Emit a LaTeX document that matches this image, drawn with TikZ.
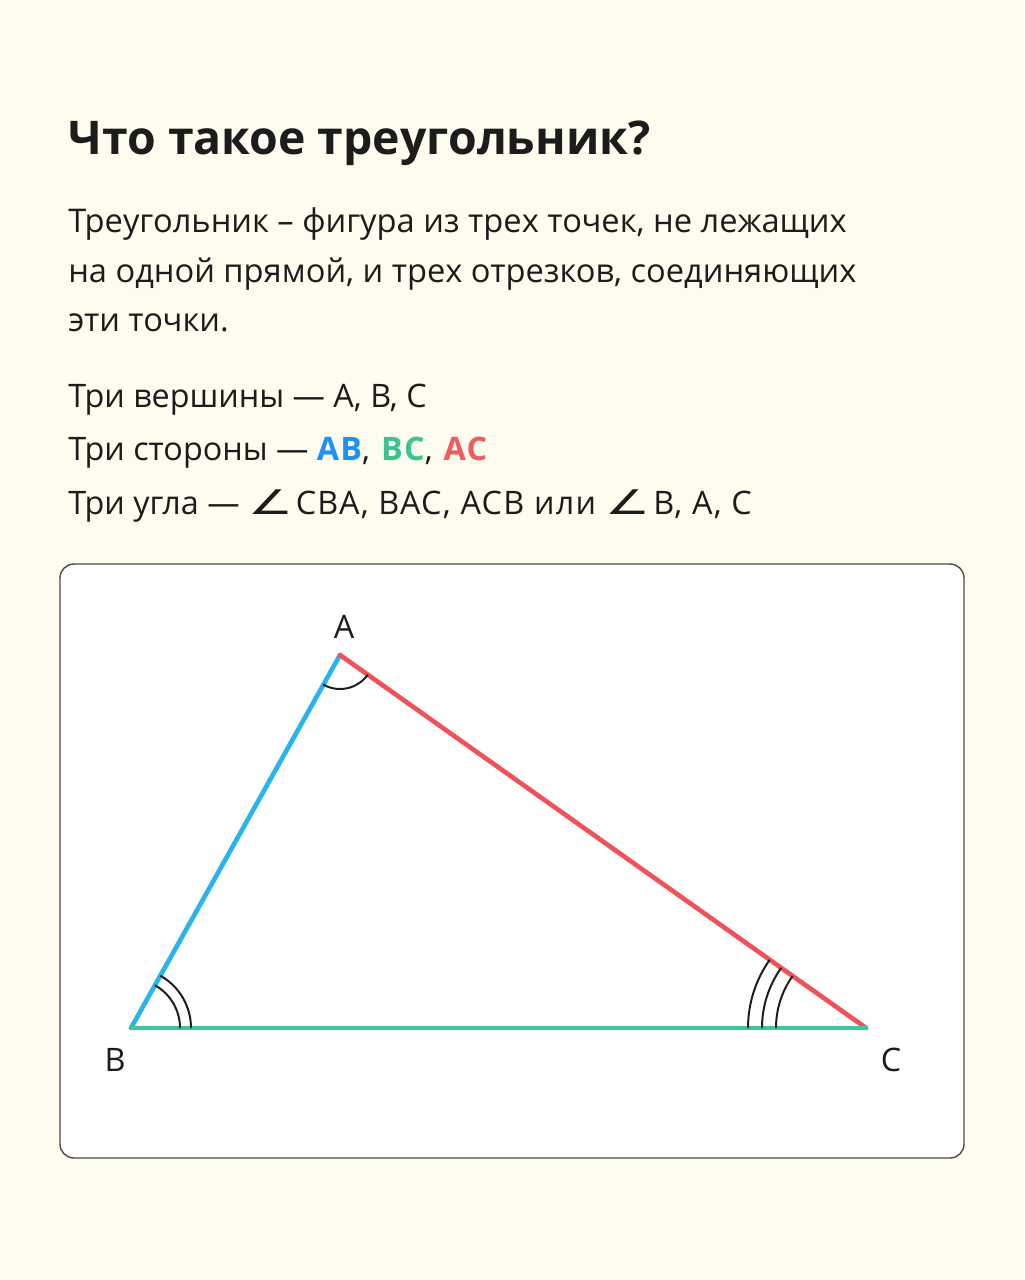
\documentclass[tikz,border=0pt]{standalone}
\usepackage{fontspec}
\setmainfont{Open Sans}
\newfontfamily\anglefont{DejaVu Sans}

\definecolor{cream}{HTML}{FDFCEF}
\definecolor{inkgray}{HTML}{1C1C1C}
\definecolor{framegray}{HTML}{4A4A4A}
\definecolor{sideAB}{HTML}{2AB4EE}
\definecolor{sideBC}{HTML}{3CC89C}
\definecolor{sideAC}{HTML}{EF5359}
\definecolor{textAB}{HTML}{1D92F2}
\definecolor{textBC}{HTML}{3EC294}
\definecolor{textAC}{HTML}{F05B5E}
\newcommand{\angmark}{\scalebox{1.55}[1.05]{\anglefont ∠}\hspace{2pt}}

\begin{document}
\begin{tikzpicture}[x=0.025cm,y=0.025cm,
  title/.style={anchor=base west,inner sep=0pt,text=inkgray,font=\fontsize{33}{38}\selectfont\bfseries},
  para/.style={anchor=base west,inner sep=0pt,text=inkgray,font=\fontsize{23.2}{27}\selectfont},
  listline/.style={anchor=base west,inner sep=0pt,text=inkgray,font=\fontsize{23}{27}\selectfont},
  vertex/.style={inner sep=0pt,text=inkgray,font=\fontsize{23}{27}\selectfont},
  side/.style={line width=3.3pt,line cap=round},
  arcmark/.style={line width=1.4pt,inkgray}]

% Page background
\fill[cream] (0,0) rectangle (1024,-1280);

% Heading and text
\node[title] (head) at (68,-155) {Что такое треугольник?};
\node[para] (p1) at (68,-233) {Треугольник – фигура из трех точек, не лежащих};
\node[para] (p2) at (68,-282) {на одной прямой, и трех отрезков, соединяющих};
\node[para] (p3) at (68,-331) {эти точки.};
\node[listline] (l1) at (68,-407) {Три вершины — A, B, C};
\node[listline] (l2) at (68,-460) {Три стороны — {\addfontfeature{LetterSpace=4}\textbf{\textcolor{textAB}{AB}}, \textbf{\textcolor{textBC}{BC}}, \textbf{\textcolor{textAC}{AC}}}};
\node[listline] (l3) at (68,-514) {Три угла — {\addfontfeature{LetterSpace=4}\angmark CBA, BAC, ACB или \angmark B, A, C}};

% White card
\draw[framegray,line width=1pt,fill=white,rounded corners=0.35cm] (60,-564) rectangle (964,-1158);

% Vertices
\coordinate (A) at (340,-655);
\coordinate (B) at (131,-1028);
\coordinate (C) at (866,-1028);

% Sides
\draw[side,sideAB] (B) -- (A);
\draw[side,sideAC] (A) -- (C);
\draw[side,sideBC] (B) -- (C);

% Angle marks
\draw[arcmark] (A) ++(240.7:34) arc[start angle=240.7,end angle=324.7,radius=34];
\draw[arcmark] (B) ++(0:49) arc[start angle=0,end angle=60.7,radius=49];
\draw[arcmark] (B) ++(0:60) arc[start angle=0,end angle=60.7,radius=60];
\foreach \r in {90,104,118}
  \draw[arcmark] (C) ++(144.7:\r) arc[start angle=144.7,end angle=180,radius=\r];

% Vertex labels
\node[vertex] (labA) at (344,-627) {A};
\node[vertex] (labB) at (115,-1060) {B};
\node[vertex] (labC) at (891,-1060) {C};

\end{tikzpicture}
\end{document}
